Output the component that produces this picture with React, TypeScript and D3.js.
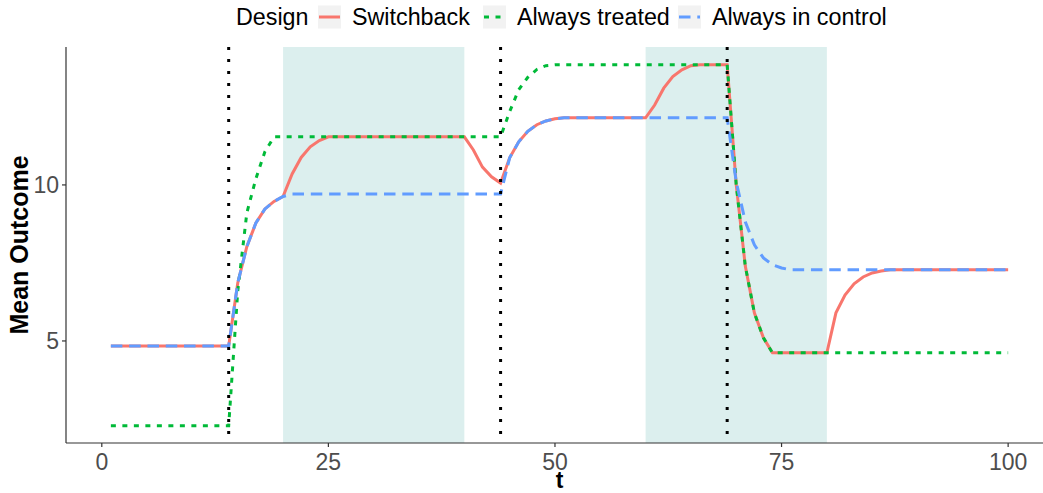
import * as d3 from 'd3'

// Series (t, mean outcome); straight segments between points
const switchT = [1, 14, 15, 16, 17, 18, 19, 20, 21, 22, 23, 24, 25, 40, 41, 42, 43, 44, 45, 46, 47, 48, 49, 50, 51, 60, 61, 62, 63, 64, 65, 66, 69, 70, 71, 72, 73, 74, 80, 81, 82, 83, 84, 85, 86, 87, 100]
const switchY = [4.84, 4.84, 6.86, 8.02, 8.78, 9.23, 9.47, 9.63, 10.35, 10.88, 11.22, 11.42, 11.54, 11.54, 11.12, 10.57, 10.26, 10.06, 10.87, 11.38, 11.72, 11.93, 12.05, 12.12, 12.15, 12.15, 12.56, 13.1, 13.47, 13.69, 13.82, 13.85, 13.85, 10.0, 7.4, 5.9, 5.1, 4.62, 4.62, 5.9, 6.47, 6.83, 7.05, 7.18, 7.24, 7.28, 7.28]

const treatedT = [1, 14, 15, 16, 17, 18, 19, 44, 45, 46, 47, 48, 49, 50, 69, 70, 71, 72, 73, 74, 100]
const treatedY = [2.28, 2.28, 6.6, 9.1, 10.2, 11.07, 11.54, 11.54, 12.35, 13.05, 13.45, 13.7, 13.82, 13.85, 13.85, 10.0, 7.4, 5.9, 5.1, 4.62, 4.62]

const controlT = [1, 14, 15, 16, 17, 18, 19, 20, 21, 44, 45, 46, 47, 48, 49, 50, 51, 69, 70, 71, 72, 73, 74, 75, 76, 100]
const controlY = [4.84, 4.84, 6.86, 8.02, 8.78, 9.23, 9.47, 9.63, 9.71, 9.71, 10.87, 11.38, 11.72, 11.93, 12.05, 12.12, 12.15, 12.15, 10.1, 8.82, 8.08, 7.66, 7.44, 7.34, 7.28, 7.28]

const designs = ['Switchback', 'Always treated', 'Always in control']
const treatedWindows = [[20, 40], [60, 80]]
const changePoints = [14, 44, 69]
const xTicks = [0, 25, 50, 75, 100]
const yTicks = [5, 10]

const colors = ['#F8766D', '#00BA38', '#619CFF']
const dashes = ['none', '5 6.5', '11.5 6.8']
const font = '"Liberation Sans", Arial, Helvetica, sans-serif'

export default function App() {
  const W = 1043
  const H = 493
  const panel = { left: 66, right: 1053, top: 47, bottom: 443 }

  const x = d3.scaleLinear().domain([-3.95, 104.95]).range([panel.left, panel.right])
  const y = d3.scaleLinear().domain([1.73, 14.42]).range([panel.bottom, panel.top])

  const line = d3
    .line<[number, number]>()
    .x((d) => x(d[0]))
    .y((d) => y(d[1]))

  const series = [
    d3.zip(switchT, switchY) as [number, number][],
    d3.zip(treatedT, treatedY) as [number, number][],
    d3.zip(controlT, controlY) as [number, number][],
  ]

  // legend layout
  const keyX = [318, 483, 678]
  const keySize = 23
  const legendY = 17

  return (
    <svg
      width={W}
      height={H}
      style={{ position: 'absolute', left: 0, top: 0, background: 'white' }}
      fontFamily={font}
    >
      {/* treatment windows */}
      {treatedWindows.map(([a, b], i) => (
        <rect
          key={i}
          x={x(a)}
          y={panel.top}
          width={x(b) - x(a)}
          height={panel.bottom - panel.top}
          fill="#DCEFEE"
        />
      ))}

      {/* series */}
      {series.map((s, i) => (
        <path
          key={i}
          d={line(s) ?? ''}
          fill="none"
          stroke={colors[i]}
          strokeWidth={3}
          strokeDasharray={dashes[i]}
        />
      ))}

      {/* change points */}
      {changePoints.map((t) => (
        <line
          key={t}
          x1={x(t)}
          x2={x(t)}
          y1={panel.top}
          y2={panel.bottom}
          stroke="#000"
          strokeWidth={3}
          strokeDasharray="3 9"
        />
      ))}

      {/* axes */}
      <line x1={panel.left} x2={panel.left} y1={panel.top} y2={panel.bottom} stroke="#333" strokeWidth={1.2} />
      <line x1={panel.left} x2={W} y1={panel.bottom} y2={panel.bottom} stroke="#333" strokeWidth={1.2} />

      {yTicks.map((v) => (
        <g key={v}>
          <line x1={panel.left - 4} x2={panel.left} y1={y(v)} y2={y(v)} stroke="#333" strokeWidth={1.2} />
          <text x={panel.left - 7} y={y(v)} dy="0.36em" textAnchor="end" fontSize={23} fill="#4D4D4D">
            {v}
          </text>
        </g>
      ))}

      {xTicks.map((v) => (
        <g key={v}>
          <line x1={x(v)} x2={x(v)} y1={panel.bottom} y2={panel.bottom + 4} stroke="#333" strokeWidth={1.2} />
          <text x={x(v)} y={panel.bottom + 27} textAnchor="middle" fontSize={23} fill="#4D4D4D">
            {v}
          </text>
        </g>
      ))}

      <text x={(panel.left + panel.right) / 2} y={488} textAnchor="middle" fontSize={23} fontWeight="bold">
        t
      </text>
      <text
        transform={`translate(28,${(panel.top + panel.bottom) / 2}) rotate(-90)`}
        textAnchor="middle"
        fontSize={25}
        fontWeight="bold"
      >
        Mean Outcome
      </text>

      {/* legend */}
      <text x={236} y={legendY + 8} fontSize={23.3}>
        Design
      </text>
      {designs.map((name, i) => (
        <g key={name}>
          <rect x={keyX[i]} y={legendY - keySize / 2} width={keySize} height={keySize} fill="#F2F2F2" />
          <line
            x1={keyX[i] + 1}
            x2={keyX[i] + keySize - 1}
            y1={legendY}
            y2={legendY}
            stroke={colors[i]}
            strokeWidth={3}
            strokeDasharray={dashes[i]}
          />
          <text x={keyX[i] + keySize + 11} y={legendY + 8} fontSize={23.3}>
            {name}
          </text>
        </g>
      ))}
    </svg>
  )
}
